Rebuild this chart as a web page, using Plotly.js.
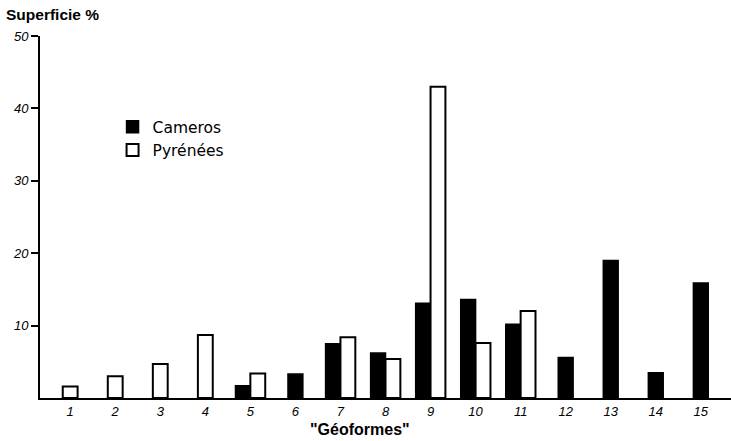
<!DOCTYPE html>
<html>
<head>
<meta charset="utf-8">
<script src="https://cdn.plot.ly/plotly-3.0.1.min.js"></script>
<style>html,body{margin:0;padding:0;background:#fff;}#chart{width:731px;height:441px;}</style>
</head>
<body>
<div id="chart"></div>
<script>
const categories = [1,2,3,4,5,6,7,8,9,10,11,12,13,14,15];
const tickLabels = ["1","2","3","4","5","6","7","8","9","10","11","12","13","14","15"];
const cameros   = [null,null,null,null,1.7,3.3,7.5,6.2,13.1,13.6,10.2,5.6,19.0,3.5,15.9];
const pyrenees  = [1.6,3.0,4.7,8.7,3.4,null,8.4,5.4,43.0,7.6,12.0,null,null,null,null];

const W = 0.33;
const offC = categories.map((c,i) => pyrenees[i] == null ? -W/2 : -W);
const offP = categories.map((c,i) => cameros[i] == null ? -W/2 : 0);

const traces = [
  {type:'bar', name:'Cameros', x:categories, y:cameros, width:W, offset:offC,
   marker:{color:'#000', line:{color:'#000', width:1.5}}},
  {type:'bar', name:'Pyrénées', x:categories, y:pyrenees, width:W, offset:offP,
   marker:{color:'#fff', line:{color:'#000', width:2}}}
];

const layout = {
  width:731, height:441,
  margin:{l:40, r:0, t:36, b:43},
  paper_bgcolor:'#fff', plot_bgcolor:'#fff',
  barmode:'overlay',
  showlegend:true,
  font:{family:'Liberation Sans, Arial, sans-serif', color:'#000'},
  title:{text:'<b>Superficie %</b>', x:6/731, xref:'container', xanchor:'left',
         y:1-15/441, yref:'container', yanchor:'middle',
         font:{size:15.5, family:'Liberation Sans, Arial, sans-serif', color:'#000'}},
  legend:{x:0.105, y:0.795, xanchor:'left', yanchor:'top', bgcolor:'rgba(0,0,0,0)',
          font:{size:15.5, family:'DejaVu Sans, sans-serif', color:'#000'}, tracegroupgap:0},
  xaxis:{range:[0.33,15.67], tickmode:'array', tickvals:categories, ticktext:tickLabels,
         showgrid:false, zeroline:false, showline:true, linecolor:'#000', linewidth:2,
         ticks:'', tickfont:{size:13, style:'italic', color:'#000'}},
  yaxis:{range:[0,50], tickvals:[10,20,30,40,50], showgrid:false, zeroline:false,
         showline:true, linecolor:'#000', linewidth:2, ticks:'outside', ticklen:7,
         tickwidth:2, tickcolor:'#000', tickfont:{size:13, style:'italic', color:'#000'}},
  annotations:[{text:'<b>"Géoformes"</b>', xref:'paper', yref:'paper',
                x:(360-40)/691, y:(398-429)/362, xanchor:'center', yanchor:'middle',
                showarrow:false, font:{size:16, color:'#000'}}]
};

Plotly.newPlot('chart', traces, layout, {displayModeBar:false, staticPlot:true});
</script>
</body>
</html>
